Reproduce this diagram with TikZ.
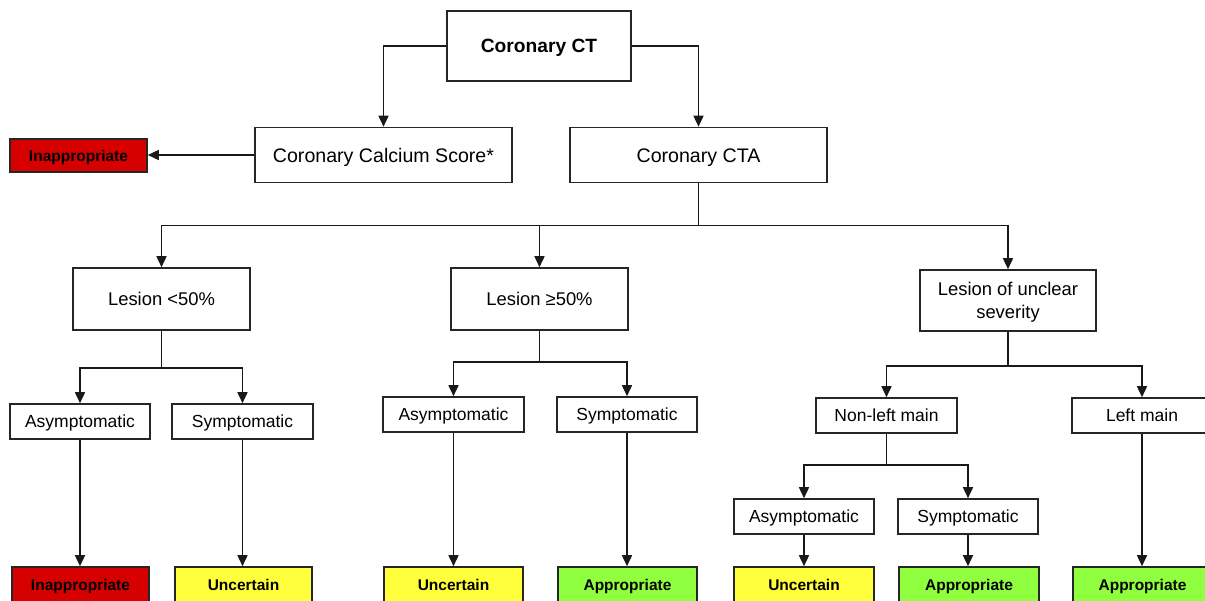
\documentclass[tikz,border=0pt]{standalone}
\usepackage{fontspec}
\setmainfont{Liberation Sans}
\usetikzlibrary{arrows.meta}
\definecolor{cred}{RGB}{214,0,0}
\definecolor{cyel}{RGB}{255,255,60}
\definecolor{cgrn}{RGB}{144,255,64}
\begin{document}
\begin{tikzpicture}[x=1pt,y=-1pt,
 box/.style={draw=black!85, line width=1.6pt, fill=white, inner sep=0pt, align=center, text depth=0pt},
 big/.style={box, font=\fontsize{19.6}{23}\selectfont, text height=14.1pt},
 mid/.style={box, font=\fontsize{18.4}{23}\selectfont, text height=13.2pt},
 sml/.style={box, font=\fontsize{17.5}{21}\selectfont, text height=12.6pt, minimum width=140pt, minimum height=35pt},
 res/.style={box, font=\fontsize{15.5}{18}\selectfont\bfseries, text height=11.2pt, minimum height=36pt},
 arr/.style={draw=black!90, line width=1.6pt, -{Triangle[length=11pt,width=10pt]}},
 ln/.style={draw=black!90, line width=1.6pt},
]
\useasboundingbox (0,0) rectangle (1205,600);
\clip (0,0) rectangle (1205,600);

% level 0-1
\node[big, font=\fontsize{19.2}{23}\selectfont\bfseries, text height=13.8pt, minimum width=184pt, minimum height=70pt] (ct) at (539,46) {Coronary CT};
\node[res, fill=cred, minimum width=137pt, minimum height=33pt] (inap0) at (78.5,155.5) {Inappropriate};
\node[big, minimum width=257pt, minimum height=55pt] (ccs) at (383.5,155) {Coronary Calcium Score*};
\node[big, minimum width=257pt, minimum height=55pt] (cta) at (698.5,155) {Coronary CTA};

% level 2
\node[mid, minimum width=177pt, minimum height=62pt] (l1) at (161.5,299) {Lesion <50\%};
\node[mid, minimum width=177pt, minimum height=62pt] (l2) at (539.5,299) {Lesion ≥50\%};
\node[mid, text height=36.2pt, minimum width=176pt, minimum height=61pt] (l3) at (1008,300.5) {Lesion of unclear\\severity};

% level 3
\node[sml] (a1) at (80,421.5) {Asymptomatic};
\node[sml, minimum width=141pt] (s1) at (242.5,421.5) {Symptomatic};
\node[sml, minimum width=141pt] (a2) at (453.5,414.5) {Asymptomatic};
\node[sml] (s2) at (627,414.5) {Symptomatic};
\node[sml, minimum width=141pt] (nl) at (886.5,415.5) {Non-left main};
\node[sml] (lm) at (1142,415.5) {Left main};

% level 4
\node[sml] (a3) at (804,516.5) {Asymptomatic};
\node[sml] (s3) at (968,516.5) {Symptomatic};

% results
\node[res, fill=cred, minimum width=137pt] (r1) at (80.5,585) {Inappropriate};
\node[res, fill=cyel, minimum width=137pt] (r2) at (243.5,585) {Uncertain};
\node[res, fill=cyel, minimum width=139pt] (r3) at (453.5,585) {Uncertain};
\node[res, fill=cgrn, minimum width=139pt] (r4) at (627.5,585) {Appropriate};
\node[res, fill=cyel, minimum width=140pt] (r5) at (804,585) {Uncertain};
\node[res, fill=cgrn, minimum width=140pt] (r6) at (969,585) {Appropriate};
\node[res, fill=cgrn, minimum width=139pt] (r7) at (1142.5,585) {Appropriate};

% connectors
\draw[arr] (ct.west) -| (ccs.north);
\draw[arr] (ct.east) -| (cta.north);
\draw[arr] (ccs.west) -- (ccs.west -| inap0.east);

\draw[ln] (cta.south) -- ++(0,42) coordinate (j1);
\draw[arr] (j1) -| (l1.north);
\draw[arr] (j1) -| (l2.north);
\draw[arr] (j1) -| (l3.north);

\draw[ln] (l1.south) -- ++(0,37) coordinate (j2);
\draw[arr] (j2) -| (a1.north);
\draw[arr] (j2) -| (s1.north);

\draw[ln] (l2.south) -- ++(0,31) coordinate (j3);
\draw[arr] (j3) -| (a2.north);
\draw[arr] (j3) -| (s2.north);

\draw[ln] (l3.south) -- ++(0,34) coordinate (j4);
\draw[arr] (j4) -| (nl.north);
\draw[arr] (j4) -| (lm.north);

\draw[ln] (nl.south) -- ++(0,31) coordinate (j5);
\draw[arr] (j5) -| (a3.north);
\draw[arr] (j5) -| (s3.north);

\draw[arr] (a1.south) -- (a1.south |- r1.north);
\draw[arr] (s1.south) -- (s1.south |- r2.north);
\draw[arr] (a2.south) -- (a2.south |- r3.north);
\draw[arr] (s2.south) -- (s2.south |- r4.north);
\draw[arr] (a3.south) -- (a3.south |- r5.north);
\draw[arr] (s3.south) -- (s3.south |- r6.north);
\draw[arr] (lm.south) -- (lm.south |- r7.north);
\end{tikzpicture}
\end{document}
